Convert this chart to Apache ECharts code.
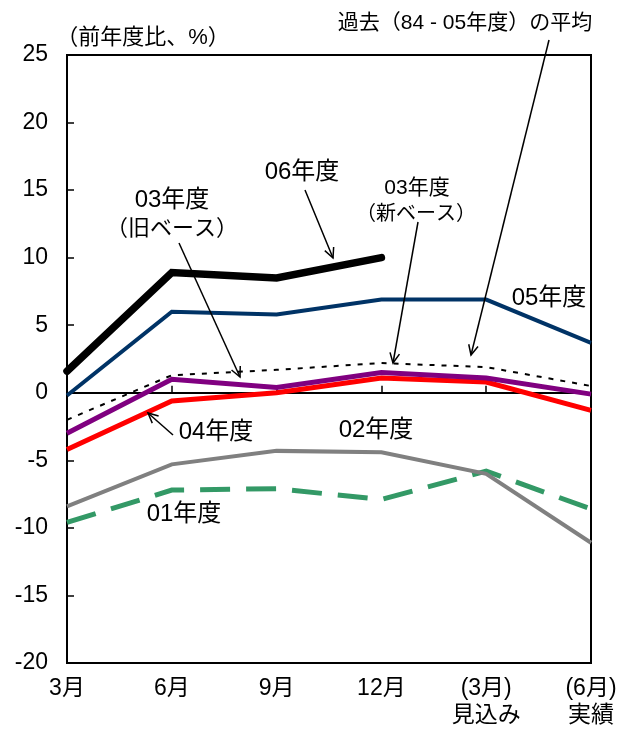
<!DOCTYPE html>
<html>
<head>
<meta charset="utf-8">
<script src="https://cdn.jsdelivr.net/npm/echarts@6/dist/echarts.min.js"></script>
<style>
html,body{margin:0;padding:0;background:#fff;}
#chart{width:624px;height:731px;}
</style>
</head>
<body>
<div id="chart"></div>
<script>
var categories = ['3月', '6月', '9月', '12月', '(3月)\n見込み', '(6月)\n実績'];
var yTicks = [-20, -15, -10, -5, 0, 5, 10, 15, 20, 25];
var fy06 = [1.6, 8.9, 8.5, 10.0, null, null];
var fy05 = [-0.2, 6.0, 5.8, 6.9, 6.9, 3.7];
var pastAvg = [-2.0, 1.3, 1.7, 2.2, 1.9, 0.5];
var fy03 = [-3.0, 1.0, 0.4, 1.5, 1.1, -0.1];
var fy04 = [-4.2, -0.6, 0.0, 1.1, 0.8, -1.3];
var fy02 = [-8.4, -5.3, -4.3, -4.4, -6.0, -11.1];
var fy01 = [-9.6, -7.2, -7.1, -7.9, -5.8, -8.6];

var FONT = '"Liberation Sans", "Noto Sans CJK JP", sans-serif';

function arrow(x1, y1, x2, y2) {
  var ang = Math.atan2(y2 - y1, x2 - x1);
  var L = 11, a = 0.45;
  var p1 = [x2 - L * Math.cos(ang - a), y2 - L * Math.sin(ang - a)];
  var p2 = [x2 - L * Math.cos(ang + a), y2 - L * Math.sin(ang + a)];
  return [
    {type: 'line', shape: {x1: x1, y1: y1, x2: x2, y2: y2}, style: {stroke: '#000', lineWidth: 1.5}, z: 100},
    {type: 'polyline', shape: {points: [p1, [x2, y2], p2]}, style: {stroke: '#000', lineWidth: 1.5, fill: null}, z: 100}
  ];
}
function label(text, x, y, size, align) {
  return {type: 'text', x: x, y: y, z: 100,
    style: {text: text, font: size + 'px ' + FONT, fill: '#000', textAlign: align || 'center', textVerticalAlign: 'middle'}};
}

var graphics = [].concat(
  label('（前年度比、%）', 143, 38, 22),
  label('過去（84 - 05年度）の平均', 465, 23, 21),
  label('06年度', 302, 172, 24),
  label('03年度', 172, 200, 24),
  label('（旧ベース）', 172, 229, 22),
  label('03年度', 417, 188, 21),
  label('（新ベース）', 416, 214, 20),
  label('05年度', 549, 298, 24),
  label('04年度', 216, 432, 24),
  label('02年度', 376, 430, 24),
  label('01年度', 184, 514, 24),
  arrow(305, 190, 333, 258),
  arrow(179, 243, 240, 377),
  arrow(418, 222, 393, 363),
  arrow(549, 40, 471, 355),
  arrow(173, 435, 148, 413)
);

function ser(name, data, color, width, type, z, cap) {
  return {
    name: name, type: 'line', data: data, xAxisIndex: 0, yAxisIndex: 0,
    symbol: 'none', smooth: false, silent: true, z: z,
    lineStyle: {color: color, width: width, type: type || 'solid', cap: cap || 'butt', join: 'miter'}
  };
}

var chart = echarts.init(document.getElementById('chart'), null, {renderer: 'canvas'});
chart.setOption({
  animation: false,
  backgroundColor: '#fff',
  grid: {left: 67, right: 33, top: 55, bottom: 68, show: true, borderColor: '#000', borderWidth: 2, containLabel: false},
  xAxis: [
    {type: 'category', data: categories, boundaryGap: false, position: 'bottom',
      axisLine: {onZero: false, lineStyle: {color: '#000', width: 2}},
      axisTick: {show: false},
      axisLabel: {color: '#000', fontSize: 23, fontFamily: FONT, margin: 12, lineHeight: 27, interval: 0},
      splitLine: {show: false}},
    {type: 'category', data: categories, boundaryGap: false, position: 'top',
      axisLine: {onZero: true, lineStyle: {color: '#000', width: 2}},
      axisTick: {show: true, inside: false, length: 7, lineStyle: {color: '#000', width: 1.5}, interval: 0},
      axisLabel: {show: false},
      splitLine: {show: false}}
  ],
  yAxis: {
    type: 'value', min: yTicks[0], max: yTicks[yTicks.length - 1], interval: 5,
    axisLine: {show: true, lineStyle: {color: '#000', width: 2}},
    axisTick: {show: true, inside: true, length: 7, lineStyle: {color: '#000', width: 1.5}},
    axisLabel: {color: '#000', fontSize: 23, fontFamily: FONT, margin: 19},
    splitLine: {show: false}
  },
  series: [
    ser('01年度', fy01, '#339966', 5, [30, 16], 2),
    ser('02年度', fy02, '#808080', 4, 'solid', 3),
    ser('04年度', fy04, '#FF0000', 5, 'solid', 4),
    ser('03年度', fy03, '#800080', 5, 'solid', 5),
    ser('過去平均', pastAvg, '#000000', 2, [5, 7], 6),
    ser('05年度', fy05, '#003366', 4, 'solid', 7),
    ser('06年度', fy06, '#000000', 7.5, 'solid', 8, 'round')
  ],
  graphic: graphics
});
</script>
</body>
</html>
